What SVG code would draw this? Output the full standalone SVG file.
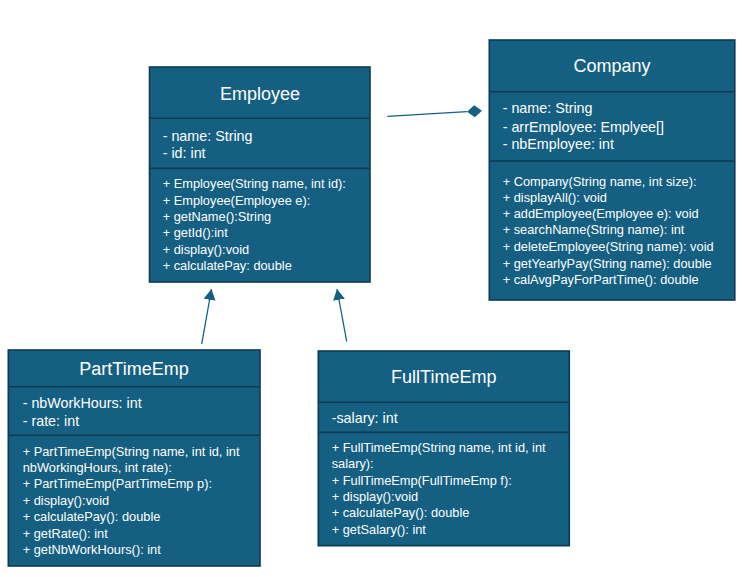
<svg xmlns="http://www.w3.org/2000/svg" width="744" height="577" viewBox="0 0 744 577">
<defs>
<style>
.box{fill:#156082;stroke:#0d3a50;stroke-width:1.6}
.div{stroke:#0d3a50;stroke-width:1.6}
.title{font-family:"Liberation Sans",Arial,sans-serif;font-size:18px;fill:#ffffff;text-anchor:middle}
.attr{font-family:"Liberation Sans",Arial,sans-serif;font-size:14.3px;fill:#ffffff}
.meth{font-family:"Liberation Sans",Arial,sans-serif;font-size:12.8px;fill:#ffffff}
.conn{stroke:#156082;stroke-width:1.3;fill:none}
</style>
<marker id="diamond" markerUnits="userSpaceOnUse" markerWidth="16" markerHeight="14" refX="0" refY="6" orient="auto" viewBox="0 0 16 12">
<polygon points="0,6 7.5,0 15,6 7.5,12" fill="#156082"/>
</marker>
<marker id="tri" markerUnits="userSpaceOnUse" markerWidth="12" markerHeight="12" refX="10" refY="5.5" orient="auto" viewBox="0 0 11 11">
<polygon points="0,0 10,5.5 0,11" fill="#156082"/>
</marker>
</defs>
<rect width="744" height="577" fill="#ffffff"/>

<g id="connectors">
<line class="conn" x1="387.3" y1="116.3" x2="467" y2="111.7" marker-end="url(#diamond)"/>
<line class="conn" x1="201.7" y1="344" x2="211.5" y2="289" marker-end="url(#tri)"/>
<line class="conn" x1="346.7" y1="341.5" x2="337" y2="289" marker-end="url(#tri)"/>
</g>

<g id="employee">
<rect class="box" x="149.5" y="67" width="220.5" height="215"/>
<line class="div" x1="149.5" y1="118.3" x2="370" y2="118.3"/>
<line class="div" x1="149.5" y1="168.3" x2="370" y2="168.3"/>
<text class="title" x="260" y="99.5">Employee</text>
<text class="attr" x="162.7" y="141">- name: String</text>
<text class="attr" x="162.7" y="157.7">- id: int</text>
<text class="meth" x="162.7" y="188.3">+ Employee(String name, int id):</text>
<text class="meth" x="162.7" y="204.5">+ Employee(Employee e):</text>
<text class="meth" x="162.7" y="221">+ getName():String</text>
<text class="meth" x="162.7" y="237">+ getId():int</text>
<text class="meth" x="162.7" y="253.5">+ display():void</text>
<text class="meth" x="162.7" y="270">+ calculatePay: double</text>
</g>

<g id="company">
<rect class="box" x="489.3" y="40" width="245.5" height="260"/>
<line class="div" x1="489.3" y1="91.7" x2="734.8" y2="91.7"/>
<line class="div" x1="489.3" y1="161" x2="734.8" y2="161"/>
<text class="title" x="612" y="72.3">Company</text>
<text class="attr" x="502.7" y="113.3">- name: String</text>
<text class="attr" x="502.7" y="131.7">- arrEmployee: Emplyee[]</text>
<text class="attr" x="502.7" y="149.3">- nbEmployee: int</text>
<text class="meth" x="502.7" y="185.7">+ Company(String name, int size):</text>
<text class="meth" x="502.7" y="201.7">+ displayAll(): void</text>
<text class="meth" x="502.7" y="218.3">+ addEmployee(Employee e): void</text>
<text class="meth" x="502.7" y="234.3">+ searchName(String name): int</text>
<text class="meth" x="502.7" y="251">+ deleteEmployee(String name): void</text>
<text class="meth" x="502.7" y="267.7">+ getYearlyPay(String name): double</text>
<text class="meth" x="502.7" y="284.3">+ calAvgPayForPartTime(): double</text>
</g>

<g id="parttimeemp">
<rect class="box" x="8.3" y="350" width="251.7" height="216"/>
<line class="div" x1="8.3" y1="386.7" x2="260" y2="386.7"/>
<line class="div" x1="8.3" y1="435.3" x2="260" y2="435.3"/>
<text class="title" x="134" y="375">PartTimeEmp</text>
<text class="attr" x="22.7" y="408.3">- nbWorkHours: int</text>
<text class="attr" x="22.7" y="425.7">- rate: int</text>
<text class="meth" x="22.7" y="455.5">+ PartTimeEmp(String name, int id, int</text>
<text class="meth" x="22.7" y="471.7">nbWorkingHours, int rate):</text>
<text class="meth" x="22.7" y="488.3">+ PartTimeEmp(PartTimeEmp p):</text>
<text class="meth" x="22.7" y="505">+ display():void</text>
<text class="meth" x="22.7" y="521">+ calculatePay(): double</text>
<text class="meth" x="22.7" y="537.7">+ getRate(): int</text>
<text class="meth" x="22.7" y="553.5">+ getNbWorkHours(): int</text>
</g>

<g id="fulltimeemp">
<rect class="box" x="318.3" y="351" width="251" height="194.7"/>
<line class="div" x1="318.3" y1="402.3" x2="569.3" y2="402.3"/>
<line class="div" x1="318.3" y1="432.3" x2="569.3" y2="432.3"/>
<text class="title" x="443.8" y="383.3">FullTimeEmp</text>
<text class="attr" x="331.7" y="423.3">-salary: int</text>
<text class="meth" x="331.7" y="451.7">+ FullTimeEmp(String name, int id, int</text>
<text class="meth" x="331.7" y="467.7">salary):</text>
<text class="meth" x="331.7" y="485">+ FullTimeEmp(FullTimeEmp f):</text>
<text class="meth" x="331.7" y="501">+ display():void</text>
<text class="meth" x="331.7" y="517.3">+ calculatePay(): double</text>
<text class="meth" x="331.7" y="534">+ getSalary(): int</text>
</g>
</svg>
